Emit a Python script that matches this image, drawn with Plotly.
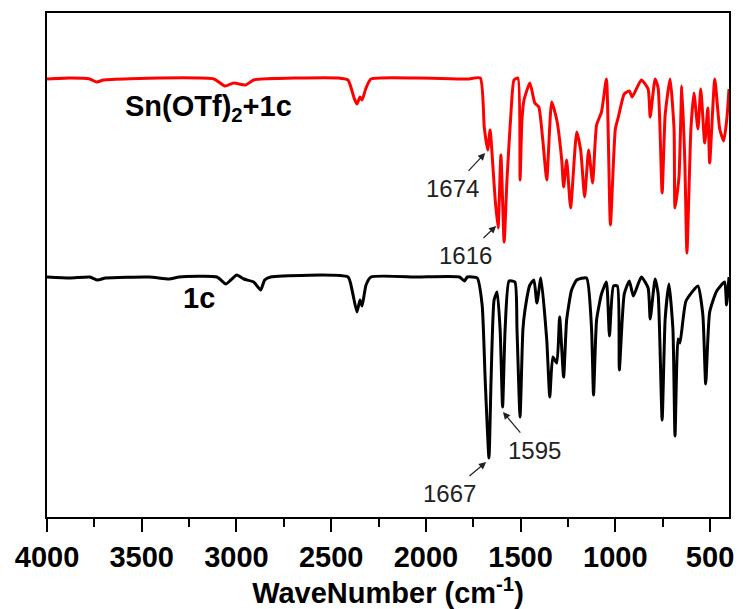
import plotly.graph_objects as go

# Sn(OTf)2 + 1c spectrum (red, offset upper)
red_wn = [4000, 3879, 3774, 3738, 3701, 3407, 3119, 3061, 3014, 2951, 2909, 2673, 2463, 2411,
          2379, 2364, 2348, 2337, 2316, 2290, 2044, 1781, 1713, 1692, 1674, 1661, 1645, 1634,
          1619, 1604, 1587, 1572, 1550, 1535, 1514, 1503, 1493, 1482, 1451, 1425, 1404, 1383,
          1362, 1336, 1309, 1283, 1273, 1257, 1236, 1204, 1183, 1162, 1141, 1120, 1099, 1073,
          1047, 1026, 1000, 984, 953, 926, 911, 863, 827, 816, 790, 774, 753, 737, 711, 690,
          685, 664, 649, 633, 622, 601, 585, 564, 549, 528, 512, 502, 475, 449, 428, 412, 400]
red_t = [87.6, 87.8, 87.6, 87.0, 87.4, 87.8, 87.6, 86.2, 86.8, 86.4, 87.4, 87.8, 87.8, 87.4,
         83.8, 82.6, 84.0, 83.4, 85.8, 87.6, 87.8, 87.6, 87.8, 78.0, 73.4, 77.4, 69.4, 63.4,
         57.8, 72.4, 55.0, 67.4, 81.4, 87.4, 87.8, 67.4, 79.4, 83.4, 86.8, 82.8, 82.0, 75.4,
         67.4, 83.0, 79.4, 71.4, 66.0, 71.4, 61.8, 77.0, 73.4, 64.0, 73.4, 66.8, 78.4, 81.0,
         87.6, 58.4, 77.6, 80.0, 84.6, 85.2, 84.0, 87.4, 85.6, 80.0, 87.6, 85.8, 64.8, 80.4,
         87.6, 77.6, 61.8, 68.0, 86.2, 70.8, 52.8, 77.6, 84.8, 77.6, 85.6, 74.8, 81.8, 70.8,
         87.6, 77.6, 75.2, 79.4, 85.6]

# 1c spectrum (black, offset lower)
blk_wn = [4000, 3879, 3774, 3733, 3691, 3460, 3355, 3302, 3103, 3056, 3030, 2998, 2961, 2909,
          2872, 2851, 2820, 2411, 2390, 2364, 2348, 2337, 2316, 2290, 2044, 1823, 1797, 1781,
          1729, 1703, 1687, 1667, 1656, 1640, 1624, 1608, 1595, 1582, 1561, 1530, 1519, 1503,
          1488, 1477, 1451, 1430, 1414, 1393, 1362, 1346, 1330, 1309, 1294, 1273, 1257, 1231,
          1204, 1152, 1126, 1115, 1099, 1073, 1047, 1031, 1010, 989, 979, 953, 926, 905, 863,
          827, 816, 790, 774, 753, 737, 717, 696, 685, 669, 659, 627, 564, 538, 523, 502, 465,
          423, 413, 400]
blk_t = [48.0, 47.8, 48.0, 47.4, 47.8, 48.0, 47.6, 48.0, 48.0, 46.6, 47.4, 48.4, 47.6, 47.0,
         45.4, 47.4, 48.0, 48.0, 45.4, 41.0, 43.4, 42.2, 46.4, 48.0, 48.0, 48.0, 47.2, 48.0,
         47.8, 42.4, 27.4, 11.8, 27.4, 43.4, 45.0, 37.4, 22.0, 37.4, 47.2, 47.0, 37.4, 20.0,
         37.4, 41.4, 46.4, 47.4, 42.8, 47.8, 35.4, 24.0, 32.0, 30.8, 40.0, 28.0, 39.4, 45.4,
         47.4, 47.8, 38.0, 24.4, 39.4, 44.6, 47.0, 36.2, 46.2, 46.2, 29.4, 44.6, 47.2, 44.2, 48.0,
         45.8, 39.6, 47.6, 44.6, 19.4, 39.6, 46.6, 37.6, 16.2, 35.6, 34.8, 43.2, 46.2, 40.4, 26.6,
         41.0, 45.2, 47.0, 42.4, 48.0]

tick_vals = [4000, 3500, 3000, 2500, 2000, 1500, 1000, 500]
tick_text = ["4000", "3500", "3000", "2500", "2000", "1500", "1000", "500"]
minor_vals = [3750, 3250, 2750, 2250, 1750, 1250, 750]

# peak labels: text, text position (wn, y), arrow head (wn, y)
peak_labels = ["1674", "1616", "1667", "1595"]
peak_text_pos = [(1860, 65.8), (1792, 52.4), (1876, 4.8), (1425, 13.4)]
peak_head = [(1687, 72.8), (1629, 58.2), (1682, 11.0), (1593, 21.0)]

series_labels = ["Sn(OTf)<sub>2</sub>+1c", "1c"]
series_label_pos = [(3150, 81.8), (3198, 43.8)]

FONT = "Arial, Liberation Sans, sans-serif"

fig = go.Figure()
fig.add_trace(go.Scatter(x=red_wn, y=red_t, mode="lines",
                         line=dict(color="#ff0000", width=3, shape="spline", smoothing=0.5),
                         showlegend=False))
fig.add_trace(go.Scatter(x=blk_wn, y=blk_t, mode="lines",
                         line=dict(color="#000000", width=3, shape="spline", smoothing=0.5),
                         showlegend=False))

for txt, (x, y) in zip(series_labels, series_label_pos):
    fig.add_annotation(x=x, y=y, text=txt, showarrow=False,
                       font=dict(family=FONT, size=29, color="black", weight="bold"))

for txt, (tx, ty), (hx, hy) in zip(peak_labels, peak_text_pos, peak_head):
    fig.add_annotation(x=hx, y=hy, ax=tx, ay=ty, axref="x", ayref="y", text=txt,
                       showarrow=True, arrowhead=2, arrowsize=1.2, arrowwidth=1.2,
                       arrowcolor="#222222", startstandoff=3,
                       font=dict(family=FONT, size=24, color="#222222"))

fig.update_layout(
    width=743, height=609,
    margin=dict(l=47, r=9, t=13, b=92),
    paper_bgcolor="white", plot_bgcolor="white",
    font=dict(family=FONT, color="black"),
)
fig.update_xaxes(
    range=[4000, 400], tickvals=tick_vals, ticktext=tick_text,
    ticks="outside", ticklen=13, tickwidth=2, tickcolor="black",
    minor=dict(tickvals=minor_vals, ticks="outside", ticklen=8, tickwidth=2, tickcolor="black"),
    tickfont=dict(family=FONT, size=29, color="black", weight="bold"),
    showline=True, linewidth=2, linecolor="black", mirror=True,
    showgrid=False, zeroline=False,
    title=dict(text="WaveNumber (cm<sup>-1</sup>)",
               font=dict(family=FONT, size=29, color="black", weight="bold"), standoff=4),
)
fig.update_yaxes(
    range=[0, 100.8], showticklabels=False, ticks="",
    showline=True, linewidth=2, linecolor="black", mirror=True,
    showgrid=False, zeroline=False,
)

fig.write_html("out.html", config={"displayModeBar": False},
               post_script="document.body.style.margin='0';document.body.style.overflow='hidden';")
